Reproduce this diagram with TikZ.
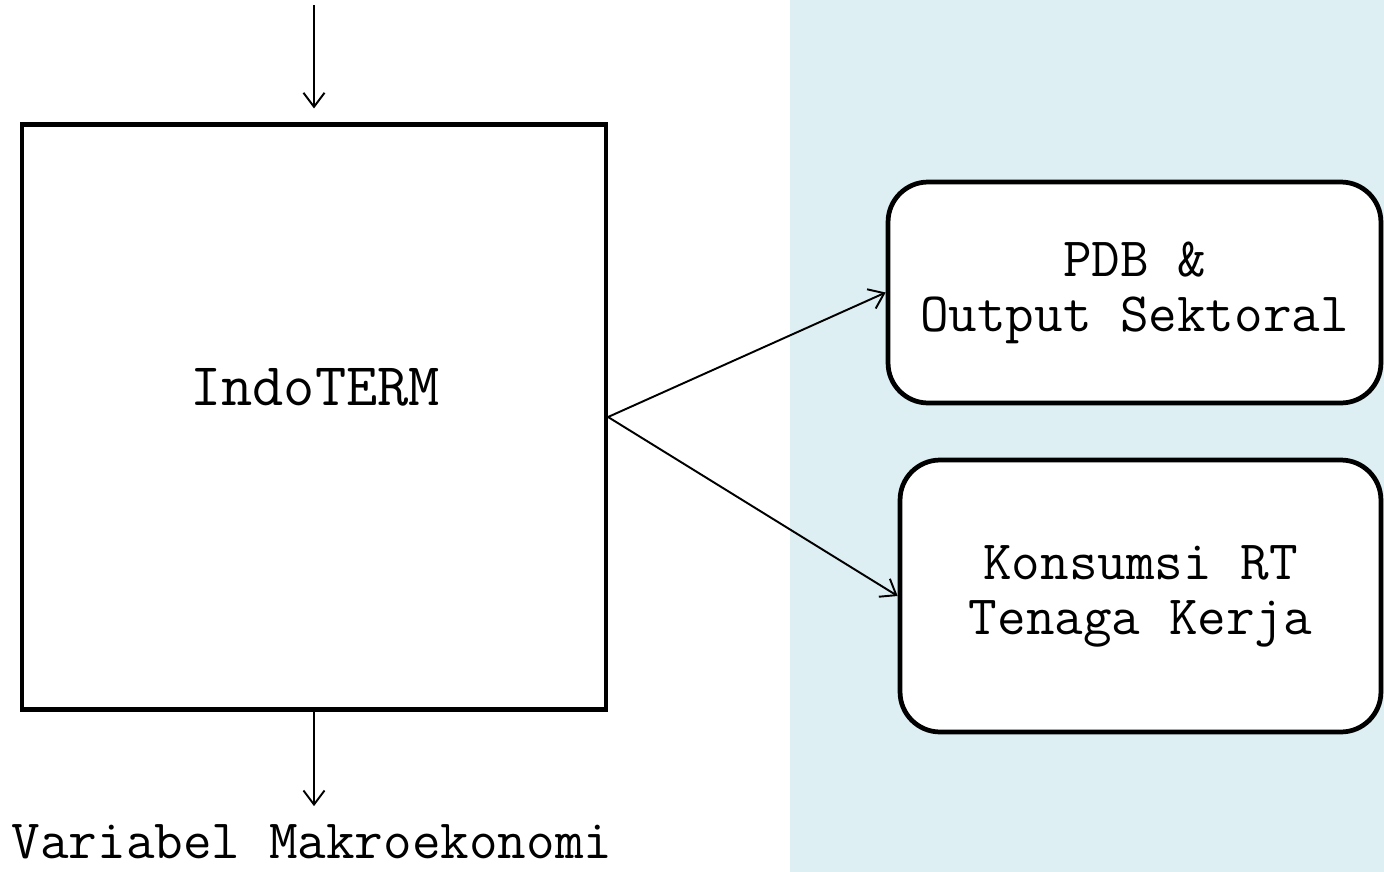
\documentclass[tikz,border=0pt]{standalone}
\usepackage{fontspec}
\usetikzlibrary{positioning,arrows.meta}
\definecolor{SimBiru}{HTML}{DDEFF2}
\tikzstyle{model} = [rectangle, 
minimum width=11.68cm, 
minimum height=11.7cm, 
draw=black, 
line width=2.4pt]
\tikzstyle{hasil} = [rectangle, rounded corners=0.8cm, 
text centered, 
align=center, 
draw=black, 
line width=2.7pt, 
fill=white, 
font=\fontsize{31.6}{31.2}\selectfont\ttfamily]
\tikzstyle{teks} = [inner sep=0pt, 
font=\fontsize{31.6}{31.2}\selectfont\ttfamily]
\tikzstyle{arrow} = [line width=1.1pt,-{Straight Barb[length=8pt,width=12pt]}]

\begin{document}
\begin{tikzpicture}[x=0.02cm, y=-0.02cm]
                \useasboundingbox (0,0) rectangle (1384,872);
                \fill[SimBiru] (790,0) rectangle (1384,872);

                \node[model] (indo) at (314,417) {};
                \node[teks, font=\fontsize{34.5}{36}\selectfont\ttfamily] (judul) at (315,387) {IndoTERM};
                \node[teks, anchor=base] (makro) at (312,858) {Variabel Makroekonomi};
                \coordinate (masuk) at (314,5);
                \node[hasil, minimum width=9.86cm, minimum height=4.42cm] (pdb) at (1134.5,292.5) {PDB \&\\Output Sektoral};
                \node[hasil, minimum width=9.62cm, minimum height=5.44cm] (rt) at (1140.5,596) {Konsumsi RT\\Tenaga Kerja};

                \draw[arrow, shorten >=14*0.02cm] (masuk) -- (indo.north);
                \draw[arrow, shorten >=10pt] (indo.south) -- (indo.south |- makro.north);
                \draw[arrow] (indo.east) -- (pdb.west);
                \draw[arrow] (indo.east) -- (rt.west);
            \end{tikzpicture}
\end{document}
